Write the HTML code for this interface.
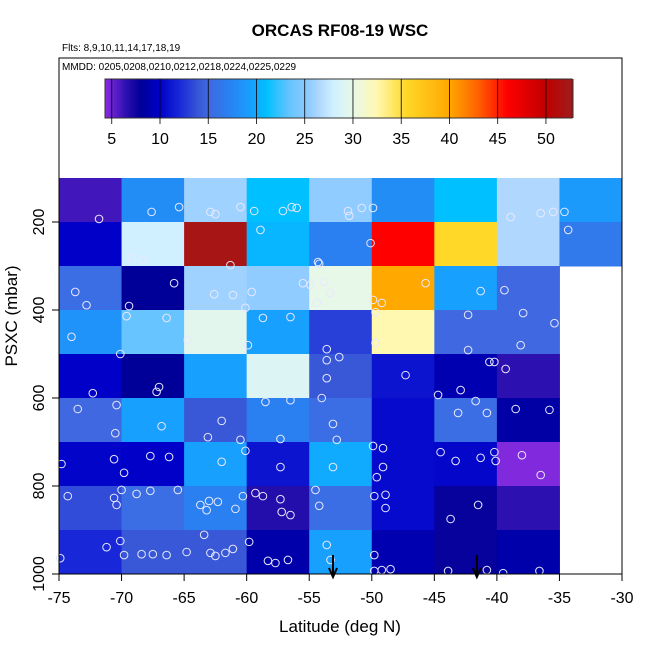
<!DOCTYPE html>
<html><head><meta charset="utf-8"><style>
body{margin:0;background:#fff}
svg{display:block;font-family:"Liberation Sans",Arial,sans-serif}
</style></head><body>
<svg id="chart" width="650" height="650" viewBox="0 0 650 650">
<text x="340" y="36" text-anchor="middle" font-size="17" font-weight="bold">ORCAS RF08-19 WSC</text>
<text x="62" y="51" font-size="10">Flts: 8,9,10,11,14,17,18,19</text>
<text x="62" y="70" font-size="10">MMDD: 0205,0208,0210,0212,0218,0224,0225,0229</text>
<g id="cells"></g>
<g id="points"></g>
<g id="arrows"></g>
<g id="cbar"></g>
<rect x="59" y="58" width="563" height="516" fill="none" stroke="#000" stroke-width="1"/>
<g id="xaxis"></g>
<g id="yaxis"></g>
<text x="340" y="632" text-anchor="middle" font-size="17">Latitude (deg N)</text>
<text transform="translate(17,316) rotate(-90)" text-anchor="middle" font-size="17">PSXC (mbar)</text>
</svg>
<script>
const latBins=[-75,-70,-65,-60,-55,-50,-45,-40,-35];
const presBins=[100,200,300,400,500,600,700,800,900];
const cellValues=[
[6,18,26,21,25.5,18,21,26.5,19],
[10,28,52,20.5,17,46,35.5,26.5,16.5],
[15.5,8,26,25.5,30,40,19.5,15,null],
[18.5,23.5,29.5,19.5,13,32.5,15,15,null],
[10,8,19.5,29,14,11,9,6.5,null],
[15,19.5,14,17,15.5,10.5,15.5,8.5,null],
[10.2,10,19.5,11,20,10.5,10.3,4.5,null],
[13.5,15.5,17,6.8,15.5,10.5,7.8,6.5,null],
[12,14,14,8.8,19.5,9,7.8,8.8,null]];
const ptLat=[-71.8,-67.6,-65.4,-62.9,-62.5,-60.5,-59.4,-57.1,-56.4,-56,-51.9,-51.8,-50.8,-49.9,-38.9,-36.5,-35.5,-34.6,-34.3,
-69.2,-68.3,-61.3,-58.9,-50.1,-54.3,-54.2,
-73.7,-72.8,-65.8,-69.4,-69.6,-66.4,-62.6,-61.1,-59.6,-60.1,-58.7,-55.5,-54.9,-53.8,-53.3,-54.4,-49.9,-49.7,-49.2,-45.7,-41.3,-42.3,-39.4,-37.9,-35.4,-56.5,
-74,-70.1,-64.7,-59.9,-53.6,-53.6,-52.6,-49.7,-47.3,-42.3,-40.6,-40.2,-38.1,-39.3,
-72.3,-73.5,-70.4,-67,-67.2,-58.5,-56.5,-53.6,-54,-44.7,-42.9,-41.7,-38.5,-35.8,
-70.5,-70.6,-66.8,-66.2,-63.1,-62,-60.5,-60.1,-62,-57.3,-57.3,-53.1,-52.8,-53.1,-49.9,-49.1,-49.1,-43.1,-40.8,-40.1,-38,
-74.8,-69.8,-67.7,-49.6,-44.5,-43.3,-41.3,-40.2,-36.5,
-74.3,-70.6,-70.4,-70,-68.8,-67.7,-65.5,-63.7,-63,-62.3,-60.3,-59.3,-58.7,-54.5,-49.8,-48.9,-43.7,-41.5,-63.2,-60.9,-57.3,-57.2,-56.5,-54.2,-48.9,
-74.9,-71.2,-69.8,-68.4,-67.5,-66.4,-64.8,-63.4,-62.9,-62.5,-61.7,-61.1,-59.8,-58.3,-57.7,-56.7,-53.6,-53.3,-49.8,-49.8,-49.2,-48.5,-43.9,-40.8,-39.5,-36.6,-70.1];
const ptPres=[193,177,166,177,182,166,175,175,166,168,175,186,168,168,189,180,177,177,218,
282,286,298,218,248,291,295,
359,389,339,391,414,418,364,366,359,395,418,339,343,336,361,384,377,405,384,339,357,411,355,407,430,416,
461,500,468,480,489,514,507,475,548,491,518,518,480,534,
589,625,616,575,586,609,605,555,600,593,582,607,625,627,
680,739,664,734,689,652,695,720,745,693,757,659,695,757,709,714,757,634,634,743,730,
750,770,732,780,723,743,736,723,775,
823,827,843,809,818,811,809,843,834,836,823,816,823,809,823,820,875,843,855,852,830,859,866,845,850,
964,939,957,955,955,957,950,911,952,959,952,943,927,970,975,968,934,968,957,993,991,989,993,991,998,993,925];
const arrowLat=[-53.1,-41.6];
const cbTicks=[5,10,15,20,25,30,35,40,45,50];
const cbRange=[4.3,52.7];

const X0=59,X1=622,LATMIN=-75,LATMAX=-30;
const xs=v=>X0+(v-LATMIN)/(LATMAX-LATMIN)*(X1-X0);
const ys=p=>178+(p-100)*0.44;
const stops=[[4.3,'#8a2be2'],[6.5,'#2c10b0'],[8,'#000098'],[10,'#0000c8'],[12,'#1828d8'],[14,'#3858d8'],[15,'#4068e0'],[17,'#2a80f0'],[19.5,'#18a0ff'],[21,'#00c0ff'],[23.5,'#68c4ff'],[25.5,'#90ccff'],[26.5,'#b0d8ff'],[28,'#d0f0ff'],[30,'#e8f8e8'],[32.5,'#fff8b0'],[35.5,'#ffd828'],[40,'#ffa800'],[43,'#ff6000'],[46,'#ff0000'],[50,'#c00000'],[52.7,'#a01c1c']];
function hex(c){return [1,3,5].map(i=>parseInt(c.substr(i,2),16));}
function cmap(v){
 if(v<=stops[0][0])return stops[0][1];
 for(let i=1;i<stops.length;i++){if(v<=stops[i][0]){const a=stops[i-1],b=stops[i];const t=(v-a[0])/(b[0]-a[0]);const ca=hex(a[1]),cb=hex(b[1]);return 'rgb('+ca.map((x,k)=>Math.round(x+(cb[k]-x)*t)).join(',')+')';}}
 return stops[stops.length-1][1];
}
const NS='http://www.w3.org/2000/svg';
function mk(tag,attrs,parent){const e=document.createElementNS(NS,tag);for(const k in attrs)e.setAttribute(k,attrs[k]);parent.appendChild(e);return e;}
const gc=document.getElementById('cells');
cellValues.forEach((row,r)=>row.forEach((v,c)=>{
 if(v===null)return;
 const x=xs(latBins[c]),x2=xs(latBins[c]+5),y=ys(presBins[r]),y2=ys(presBins[r]+100);
 const e=mk('rect',{x:x,y:y,width:x2-x+0.5,height:y2-y+0.5,fill:cmap(v)},gc);
 
 
}));
const gp=document.getElementById('points');
ptLat.forEach((la,i)=>{
 const e=mk('circle',{cx:xs(la),cy:ys(ptPres[i]),r:3.8,fill:'none',stroke:'#e8e8ff','stroke-width':1},gp);
 
 
});
const ga=document.getElementById('arrows');
arrowLat.forEach(la=>{
 const x=xs(la);
 const g=mk('g',{},ga);
 
 
 mk('line',{x1:x,y1:555,x2:x,y2:576,stroke:'#000','stroke-width':2},g);
 mk('path',{d:`M${x-4},568 L${x},577 L${x+4},568`,fill:'none',stroke:'#000','stroke-width':2},g);
});
// colorbar
const gb=document.getElementById('cbar');
const CB0=105,CB1=572,cbx=v=>CB0+(v-cbRange[0])/(cbRange[1]-cbRange[0])*(CB1-CB0);
for(let v=cbRange[0];v<cbRange[1];v+=0.25){mk('rect',{x:cbx(v),y:79,width:(CB1-CB0)/((cbRange[1]-cbRange[0])/0.25)+0.6,height:39,fill:cmap(v+0.125)},gb);}
mk('rect',{x:CB0,y:79,width:CB1-CB0,height:39,fill:'none',stroke:'#333','stroke-width':1},gb);
cbTicks.forEach(t=>{
 const x=cbx(t);
 mk('line',{x1:x,y1:79,x2:x,y2:124,stroke:'#000','stroke-width':0.8},gb);
 const e=mk('text',{x:x,y:144,'text-anchor':'middle','font-size':16},gb);
 e.textContent=t;
 
 
});
// axes
const gx=document.getElementById('xaxis');
for(let v=-75;v<=-30;v+=5){
 const x=xs(v);
 mk('line',{x1:x,y1:574,x2:x,y2:581,stroke:'#000'},gx);
 const e=mk('text',{x:x,y:603,'text-anchor':'middle','font-size':16},gx);
 e.textContent=v;
 
 
}
const gy=document.getElementById('yaxis');
[200,400,600,800,1000].forEach(p=>{
 const y=ys(p);
 mk('line',{x1:52,y1:y,x2:59,y2:y,stroke:'#000'},gy);
 const e=mk('text',{transform:`translate(44,${y}) rotate(-90)`,'text-anchor':'middle','font-size':16},gy);
 e.textContent=p;
 
 
});
</script>
</body></html>
